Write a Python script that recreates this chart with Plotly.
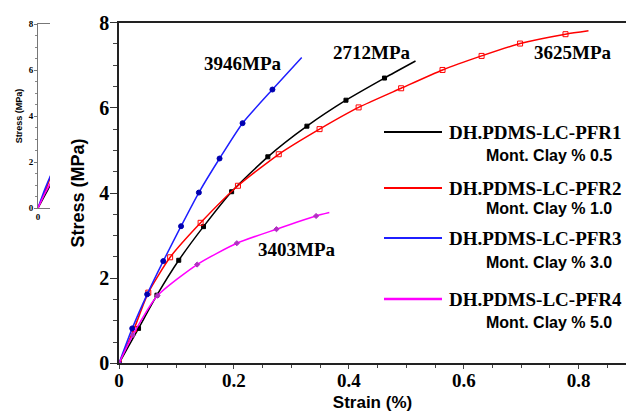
import plotly.graph_objects as go

W, H = 626, 412

# ---------------- data ----------------
series_names = ["DH.PDMS-LC-PFR1", "DH.PDMS-LC-PFR2", "DH.PDMS-LC-PFR3", "DH.PDMS-LC-PFR4"]
clay_labels = ["Mont. Clay % 0.5", "Mont. Clay % 1.0", "Mont. Clay % 3.0", "Mont. Clay % 5.0"]
modulus_labels = ["2712MPa", "3625MPa", "3946MPa", "3403MPa"]

strain_pfr1 = [0, 0.034, 0.066, 0.104, 0.147, 0.196, 0.259, 0.327, 0.395, 0.462, 0.516]
stress_pfr1 = [0, 0.82, 1.60, 2.42, 3.21, 4.03, 4.85, 5.57, 6.18, 6.70, 7.10]

strain_pfr2 = [0, 0.026, 0.051, 0.089, 0.142, 0.207, 0.278, 0.349, 0.417, 0.491, 0.563, 0.631, 0.698, 0.777, 0.817]
stress_pfr2 = [0, 0.80, 1.66, 2.49, 3.30, 4.17, 4.91, 5.50, 6.01, 6.46, 6.89, 7.22, 7.51, 7.73, 7.81]

strain_pfr3 = [0, 0.023, 0.049, 0.077, 0.108, 0.139, 0.175, 0.215, 0.267, 0.318]
stress_pfr3 = [0, 0.82, 1.62, 2.40, 3.22, 4.01, 4.81, 5.64, 6.43, 7.18]

strain_pfr4 = [0, 0.024, 0.067, 0.136, 0.205, 0.274, 0.343, 0.366]
stress_pfr4 = [0, 0.66, 1.59, 2.32, 2.82, 3.15, 3.46, 3.54]

x_ticks = [0, 0.2, 0.4, 0.6, 0.8]
y_ticks = [0, 2, 4, 6, 8]

# label anchor points (data coords) for modulus annotations
label_x = [0.440, 0.790, 0.216, 0.310]
label_y = [7.31, 7.31, 7.05, 2.68]

# ---------------- styles ----------------
colors = ["#000000", "#ff0000", "#1f1fff", "#ff00ff"]
marker_colors = ["#000000", "#ff0000", "#0000b0", "#b030c0"]
marker_symbols = ["square", "square-open", "circle", "diamond"]
marker_sizes = [4, 5, 5, 4]

SERIF = "Liberation Serif"
SANS = "Liberation Sans"

data = [(strain_pfr1, stress_pfr1), (strain_pfr2, stress_pfr2),
        (strain_pfr3, stress_pfr3), (strain_pfr4, stress_pfr4)]

fig = go.Figure()

for i, (xs, ys) in enumerate(data):
    for xa, ya in (("x", "y"), ("x2", "y2")):
        fig.add_trace(go.Scatter(
            x=xs, y=ys, mode="lines", line=dict(color=colors[i], width=1.5, shape="spline", smoothing=0.6),
            xaxis=xa, yaxis=ya, showlegend=False, hoverinfo="skip"))
    fig.add_trace(go.Scatter(
        x=xs[:-1], y=ys[:-1], mode="markers",
        marker=dict(symbol=marker_symbols[i], size=marker_sizes[i], color=marker_colors[i],
                    line=dict(color=marker_colors[i], width=1)),
        xaxis="x", yaxis="y", showlegend=False, name=series_names[i]))

# main plot area in pixels
px_left, px_right = 119, 626
py_top, py_bottom = 22.7, 363.3
x_max = 0.8823

fig.update_layout(
    width=W, height=H,
    margin=dict(l=0, r=0, t=0, b=0, autoexpand=False),
    paper_bgcolor="white", plot_bgcolor="white",
    showlegend=False,
    xaxis=dict(
        domain=[px_left / W, px_right / W], range=[0, x_max],
        tickvals=x_ticks, ticktext=[f"{v:g}" for v in x_ticks],
        tickfont=dict(family=SERIF, size=19, color="black", weight="bold"),
        ticklabelstandoff=-5,
        showline=True, linecolor="#222", linewidth=1.5, mirror=True,
        ticks="outside", ticklen=4, tickwidth=1, tickcolor="#444",
        minor=dict(dtick=0.05, ticks="outside", ticklen=3, tickcolor="#444"),
        showgrid=False, zeroline=False, automargin=False,
        title=dict(text="Strain (%)", font=dict(family=SANS, size=17, color="black", weight="bold"), standoff=8),
        anchor="y",
    ),
    yaxis=dict(
        domain=[(H - py_bottom) / H, (H - py_top) / H], range=[0, 8],
        tickvals=y_ticks,
        tickfont=dict(family=SERIF, size=20, color="black", weight="bold"),
        ticklabelstandoff=-3,
        showline=True, linecolor="#222", linewidth=1.5,
        ticks="outside", ticklen=7, tickwidth=1.2, tickcolor="#333",
        minor=dict(dtick=0.5, ticks="outside", ticklen=4, tickcolor="#444"),
        showgrid=False, zeroline=False, automargin=False,
        title=dict(text="Stress (MPa)", font=dict(family=SANS, size=18, color="black", weight="bold"), standoff=10),
        anchor="x",
    ),
    # inset axes
    xaxis2=dict(
        domain=[38 / W, 50 / W], range=[0, 0.04],
        tickvals=[0], ticktext=["0"],
        tickfont=dict(family=SERIF, size=9, color="black", weight="bold"),
        showline=True, linecolor="#777", linewidth=1, mirror=True,
        ticks="", showgrid=False, zeroline=False, anchor="y2", automargin=False,
    ),
    yaxis2=dict(
        domain=[(H - 208) / H, (H - 24) / H], range=[0, 8],
        tickvals=y_ticks,
        tickfont=dict(family=SERIF, size=9, color="black", weight="bold"),
        ticklabelstandoff=-1,
        showline=True, linecolor="#777", linewidth=1,
        ticks="outside", ticklen=3, tickcolor="#777",
        minor=dict(dtick=0.5, ticks="outside", ticklen=2, tickcolor="#888"),
        showgrid=False, zeroline=False, anchor="x2", automargin=False,
        title=dict(text="Stress (MPa)", font=dict(family=SANS, size=9, color="black", weight="bold"), standoff=4),
    ),
)

# modulus labels
for i, txt in enumerate(modulus_labels):
    fig.add_annotation(x=label_x[i], y=label_y[i], xref="x", yref="y", text=f"<b>{txt}</b>",
                       showarrow=False, font=dict(family=SERIF, size=19, color="black"))

# custom legend
name_rows_px = [132, 188, 238, 299]
clay_rows_px = [155, 208, 262, 322]
for i in range(4):
    yr = (H - name_rows_px[i]) / H
    fig.add_shape(type="line", xref="paper", yref="paper",
                  x0=384 / W, x1=442 / W, y0=yr, y1=yr,
                  line=dict(color=colors[i], width=2.5 if i == 3 else 2))
    fig.add_annotation(x=447 / W, y=yr, xref="paper", yref="paper", xanchor="left", yanchor="middle",
                       text=f"<b>{series_names[i]}</b>", showarrow=False,
                       font=dict(family=SERIF, size=19, color="black"))
    fig.add_annotation(x=614 / W, y=(H - clay_rows_px[i]) / H, xref="paper", yref="paper",
                       xanchor="right", yanchor="middle",
                       text=f"<b>{clay_labels[i]}</b>", showarrow=False,
                       font=dict(family=SANS, size=16, color="black"))

fig.write_html("out.html", config={"displayModeBar": False},
               post_script="document.body.style.margin='0';document.body.style.overflow='hidden';")
